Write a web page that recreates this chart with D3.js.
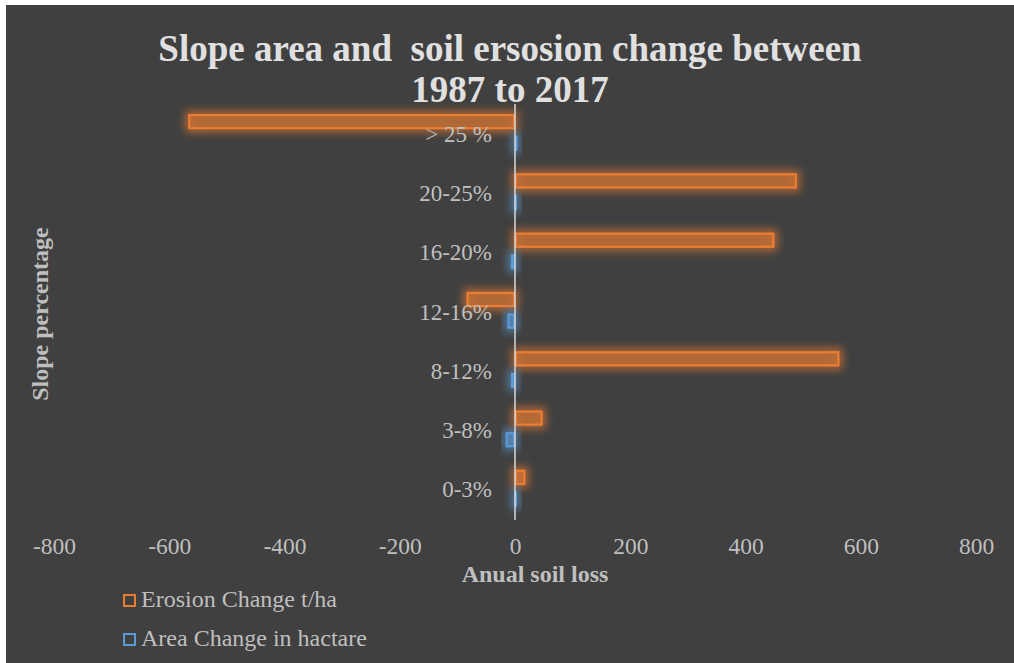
<!DOCTYPE html>
<html>
<head>
<meta charset="utf-8">
<script src="https://cdn.jsdelivr.net/npm/d3@7"></script>
<style>
  html, body { margin: 0; padding: 0; background: #ffffff; }
  svg { display: block; }
</style>
</head>
<body>
<div id="chart"></div>
<script>
// Slope classes, listed bottom to top
const categories = ["0-3%", "3-8%", "8-12%", "12-16%", "16-20%", "20-25%", "> 25 %"];
// Change in annual soil loss (t/ha) per slope class
const erosionChange = [18, 48, 563, -84, 450, 489, -567];
// Change in area (ha) per slope class
const areaChange = [-1, -16, -7, -13, -7, -1, 1];
const seriesNames = ["Erosion Change t/ha", "Area Change in hactare"];
const xTicks = [-800, -600, -400, -200, 0, 200, 400, 600, 800];

const W = 1014, H = 663;
const FONT = "'Times New Roman', 'Liberation Serif', 'DejaVu Serif', serif";
const colors = { erosion: "#ed7d31", area: "#5b9bd5" };

const svg = d3.select("#chart").append("svg")
  .attr("width", W).attr("height", H)
  .style("font-family", FONT);

// Soft glow filters around the bars
const defs = svg.append("defs");
function glow(id, color) {
  const f = defs.append("filter").attr("id", id)
    .attr("x", "-50%").attr("y", "-100%").attr("width", "200%").attr("height", "300%");
  f.append("feMorphology").attr("in", "SourceAlpha").attr("operator", "dilate")
    .attr("radius", 2.5).attr("result", "dil");
  f.append("feGaussianBlur").attr("in", "dil").attr("stdDeviation", 4.5).attr("result", "blur");
  f.append("feFlood").attr("flood-color", color).attr("flood-opacity", 0.65).attr("result", "col");
  f.append("feComposite").attr("in", "col").attr("in2", "blur").attr("operator", "in").attr("result", "glow");
  const m = f.append("feMerge");
  m.append("feMergeNode").attr("in", "glow");
  m.append("feMergeNode").attr("in", "SourceGraphic");
}
glow("glowOrange", colors.erosion);
glow("glowBlue", colors.area);

// Chart background
svg.append("rect").attr("x", 6).attr("y", 5).attr("width", W - 6).attr("height", H - 5)
  .attr("fill", "#404040");

// Scales
const x = d3.scaleLinear().domain([-800, 800]).range([54, 976]);
const y = d3.scaleBand().domain(categories.slice().reverse()).range([104, 519]).paddingInner(0);
const bw = y.bandwidth();
const inner = d3.scaleBand().domain(["erosion", "area"])
  .range([bw * 0.17, bw * 0.79]).paddingInner(0.3);

const rows = categories.map((c, i) => ({ cat: c, erosion: erosionChange[i], area: areaChange[i] }));

// Bars
const fills = { erosion: "rgba(237,125,49,0.34)", area: "rgba(91,155,213,0.34)" };
["erosion", "area"].forEach(key => {
  svg.append("g")
    .attr("filter", key === "erosion" ? "url(#glowOrange)" : "url(#glowBlue)")
    .selectAll("rect").data(rows).join("rect")
    .attr("x", d => x(Math.min(0, d[key])) + 1)
    .attr("y", d => y(d.cat) + inner(key) + 1)
    .attr("width", d => Math.max(0.5, Math.abs(x(d[key]) - x(0)) - 2))
    .attr("height", inner.bandwidth() - 2)
    .attr("fill", fills[key])
    .attr("stroke", colors[key])
    .attr("stroke-width", 2.2);
});

// Vertical zero axis
svg.append("line")
  .attr("x1", x(0)).attr("x2", x(0))
  .attr("y1", 104).attr("y2", 520)
  .attr("stroke", "#d9d9d9").attr("stroke-width", 1.5);

// Category labels
svg.append("g").selectAll("text").data(categories).join("text")
  .attr("x", 492)
  .attr("y", d => y(d) + bw / 2 + 8)
  .attr("text-anchor", "end")
  .style("font-family", FONT)
  .attr("font-size", 23)
  .attr("fill", "#bfbfbf")
  .text(d => d);

// X tick labels
const xAxis = d3.axisBottom(x).tickValues(xTicks).tickFormat(d => String(d))
  .tickSize(0).tickPadding(0);
const gx = svg.append("g").attr("transform", "translate(0,537)").call(xAxis);
gx.attr("font-family", null);
gx.select(".domain").remove();
gx.selectAll("text")
  .style("font-family", FONT)
  .attr("font-size", 23.5)
  .attr("fill", "#bfbfbf")
  .attr("dy", "0.72em");

// Axis titles
svg.append("text")
  .attr("x", 535).attr("y", 582)
  .attr("text-anchor", "middle")
  .style("font-family", FONT)
  .attr("font-size", 24).attr("font-weight", "bold")
  .attr("fill", "#bfbfbf")
  .text("Anual soil loss");

svg.append("text")
  .attr("transform", "translate(48,314) rotate(-90)")
  .attr("text-anchor", "middle")
  .style("font-family", FONT)
  .attr("font-size", 24).attr("font-weight", "bold")
  .attr("fill", "#bfbfbf")
  .text("Slope percentage");

// Title
const title = svg.append("text")
  .attr("x", 510).attr("text-anchor", "middle")
  .style("font-family", FONT)
  .attr("font-size", 37).attr("font-weight", "bold")
  .attr("fill", "#e0e0e0")
  .style("white-space", "pre");
title.append("tspan").attr("x", 510).attr("y", 61).text("Slope area and  soil ersosion change between");
title.append("tspan").attr("x", 510).attr("y", 102).text("1987 to 2017");

// Legend
const legend = svg.append("g").selectAll("g").data(seriesNames).join("g")
  .attr("transform", (d, i) => `translate(124,${595 + i * 39})`);
legend.append("rect")
  .attr("width", 11).attr("height", 11)
  .attr("fill", "none")
  .attr("stroke", (d, i) => i === 0 ? colors.erosion : colors.area)
  .attr("stroke-width", 2);
legend.append("text")
  .attr("x", 17).attr("y", 12)
  .style("font-family", FONT)
  .attr("font-size", 24)
  .attr("fill", "#bfbfbf")
  .text(d => d);
</script>
</body>
</html>
